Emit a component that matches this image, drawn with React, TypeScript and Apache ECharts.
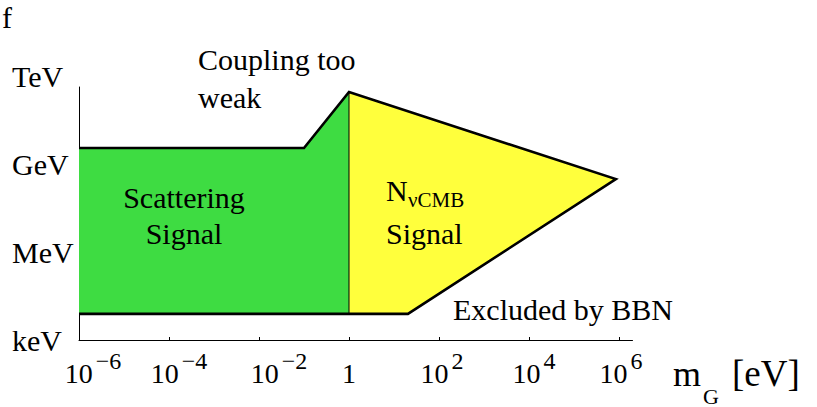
import React, { useEffect, useRef } from 'react';
import * as echarts from 'echarts';

// log10(m_G / eV) and log10(energy / eV)
const greenLogMass = [-6, -1, 0, 0, -6];
const greenLogEnergy = [9.55, 9.55, 11.46, 3.89, 3.89];
const yellowLogMass = [0, 5.93, 1.31, 0];
const yellowLogEnergy = [11.46, 8.49, 3.89, 3.89];
const boundaryLogMass = [-6, -1, 0, 5.93, 1.31, -6];
const boundaryLogEnergy = [9.55, 9.55, 11.46, 8.49, 3.89, 3.89];
const dividerLogMass = [0, 0];
const dividerLogEnergy = [11.46, 3.89];

const xTickExponents = [-6, -4, -2, 0, 2, 4, 6];
const yTickValues = [3, 6, 9];
const yTickLabels = ['keV', 'MeV', 'GeV'];
const yTopTickValue = 12;
const yTopTickLabel = 'TeV';

const FONT = '"Liberation Serif", "Times New Roman", serif';
const xLabelPad: Record<number, number> = { [-6]: 28, [-4]: 20, [-2]: 40, 0: 0, 2: 6, 4: 10, 6: 4 };

const zip = (a: number[], b: number[]) => a.map((v, i) => [v, b[i]]);

export default function App() {
  const ref = useRef<HTMLDivElement>(null);
  useEffect(() => {
    if (!ref.current) return;
    const chart = echarts.init(ref.current, undefined, { renderer: 'svg' });

    const polygonSeries = (xs: number[], ys: number[], color: string) => ({
      type: 'custom',
      silent: true,
      clip: false,
      data: zip(xs, ys),
      renderItem: (params: any, api: any) => {
        if (params.dataIndex !== 0) return null;
        const pts = xs.map((x, i) => api.coord([x, ys[i]]));
        return { type: 'polygon', shape: { points: pts }, style: { fill: color, stroke: 'none' } };
      },
      z: 1,
    });

    const rich: any = {
      sup: { fontSize: 24, fontFamily: FONT, color: '#000', lineHeight: 16, verticalAlign: 'middle', padding: [0, 0, 24, 3] },
    };
    Object.values(xLabelPad).forEach((p) => {
      rich['b' + p] = { fontSize: 28, fontFamily: FONT, color: '#000', lineHeight: 40, verticalAlign: 'middle', padding: [0, 0, 0, p] };
    });

    const txt = (x: number, y: number, text: string, size: number, align = 'left', va = 'middle') => ({
      type: 'text',
      x,
      y,
      z: 10,
      style: { text, font: `${size}px ${FONT}`, fill: '#000', textAlign: align, textVerticalAlign: va },
    });

    const option: any = {
      animation: false,
      grid: { left: 79, right: 184.5, top: 87, bottom: 67, containLabel: false, outerBoundsMode: 'none' },
      xAxis: {
        type: 'value',
        min: -6,
        max: 6.3,
        interval: 2,
        splitLine: { show: false },
        axisLine: { show: true, onZero: false, lineStyle: { color: '#000', width: 1 } },
        axisTick: { show: true, inside: true, length: 3, customValues: xTickExponents, lineStyle: { color: '#000', width: 1 } },
        axisLabel: {
          customValues: xTickExponents,
          margin: 13,
          formatter: (v: number) => {
            const e = Math.round(v);
            if (Math.abs(v - e) > 1e-6 || !xTickExponents.includes(e)) return '';
            const p = xLabelPad[e];
            if (e === 0) return `{b${p}|1}`;
            const s = e < 0 ? '\u2212' + Math.abs(e) : String(e);
            return `{b${p}|10}{sup|${s}}`;
          },
          rich,
        },
      },
      yAxis: {
        type: 'value',
        min: 3,
        max: 11.63,
        interval: 3,
        splitLine: { show: false },
        axisLine: { show: true, onZero: false, lineStyle: { color: '#000', width: 1 } },
        axisTick: { show: true, inside: true, length: 3, customValues: yTickValues, lineStyle: { color: '#000', width: 1 } },
        axisLabel: {
          customValues: yTickValues,
          margin: 67,
          align: 'left',
          color: '#000',
          fontSize: 30,
          fontFamily: FONT,
          padding: [0, 0, 12, 0],
          formatter: (v: number) => {
            const i = yTickValues.indexOf(Math.round(v));
            return i >= 0 && Math.abs(v - Math.round(v)) < 1e-6 ? yTickLabels[i] : '';
          },
        },
      },
      series: [
        polygonSeries(greenLogMass, greenLogEnergy, '#3EDC42'),
        polygonSeries(yellowLogMass, yellowLogEnergy, '#FFFF3C'),
        {
          type: 'line',
          data: zip(dividerLogMass, dividerLogEnergy),
          symbol: 'none',
          silent: true,
          lineStyle: { color: '#000', width: 1 },
          z: 3,
        },
        {
          type: 'line',
          data: zip(boundaryLogMass, boundaryLogEnergy),
          symbol: 'none',
          silent: true,
          lineStyle: { color: '#000', width: 2.6, join: 'miter' },
          z: 4,
        },
        {
          type: 'scatter',
          data: [[-6, yTopTickValue]],
          symbolSize: 0,
          clip: false,
          silent: true,
          itemStyle: { opacity: 1 },
          label: {
            show: true,
            formatter: yTopTickLabel,
            position: [-67, 0],
            align: 'left',
            verticalAlign: 'middle',
            color: '#000',
            opacity: 1,
            fontSize: 30,
            fontFamily: FONT,
            padding: [0, 0, 12, 0],
          },
        },
      ],
      graphic: [
        txt(2, 2, 'f', 30, 'left', 'top'),
        txt(198, 59.4, 'Coupling too', 30),
        txt(198, 97.4, 'weak', 30),
        txt(184, 197.4, 'Scattering', 30, 'center'),
        txt(184, 233.4, 'Signal', 30, 'center'),
        txt(386, 190.4, 'N', 30),
        txt(408, 200.3, '\u03bdCMB', 21),
        txt(386, 233.4, 'Signal', 30),
        txt(453, 309.4, 'Excluded by BBN', 30),
        txt(673, 373.5, 'm', 36),
        txt(703, 407, 'G', 22, 'left', 'bottom'),
        txt(732, 373.5, '[eV]', 37),
      ],
    };
    chart.setOption(option);
    return () => chart.dispose();
  }, []);
  return <div ref={ref} style={{ position: 'absolute', left: 0, top: 0, width: 817, height: 407, background: '#fff' }} />;
}
